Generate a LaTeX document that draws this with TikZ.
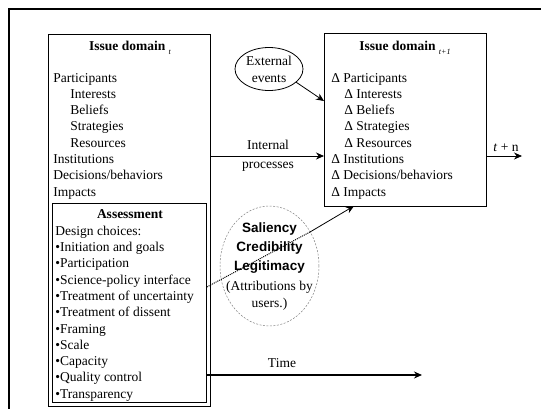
\documentclass[tikz,border=0pt]{standalone}
\usepackage{fontspec}
\setmainfont{Liberation Serif}
\newfontfamily\arialfont{Liberation Sans}
\usetikzlibrary{arrows.meta,positioning,shapes.geometric}

\begin{document}
\begin{tikzpicture}[x=1pt, y=-1pt, font=\fontsize{13.5}{16}\selectfont, line width=0.8pt]
        \tikzstyle{box} = [rectangle, draw, inner sep=0pt, anchor=north west]
        \tikzstyle{entry} = [anchor=west, inner sep=0pt, text height=9pt, text depth=3pt]
        \tikzstyle{title} = [inner sep=0pt, text height=9pt, text depth=3pt]
        \tikzstyle{arrow} = [-{Stealth[length=8pt, width=7pt]}]
        \useasboundingbox (0,0) rectangle (541,408);
        % outer frame
        \draw[line width=2pt] (9,410) -- (9,9) -- (541,9);
        % boxes
        \node (domt) [box, minimum width=162, minimum height=372] at (48,34) {};
        \node (assess) [box, minimum width=154, minimum height=199] at (52,203) {};
        \node (domr) [box, minimum width=162, minimum height=173] at (324,33) {};
        \node (ttl) [title] at (130,47) {\textbf{Issue domain} \raisebox{-4pt}{\fontsize{8}{8}\selectfont\itshape t}};
        \node (ttr) [title] at (405,47) {\textbf{Issue domain} \raisebox{-4pt}{\fontsize{8}{8}\selectfont\itshape t+1}};
        \foreach \xx/\txt [count=\i] in {53/Participants, 70/Interests, 70/Beliefs, 70/Strategies, 70/Resources, 53/Institutions, 53/Decisions\slash behaviors, 53/Impacts}
            \node (lt\i) [entry] at (\xx, 79+16.3*\i-16.3) {\txt};
        \foreach \xx/\txt [count=\i] in {331/Participants, 344/Interests, 344/Beliefs, 344/Strategies, 344/Resources, 331/Institutions, 331/Decisions\slash behaviors, 331/Impacts}
            \node (rt\i) [entry] at (\xx, 79+16.3*\i-16.3) {Δ \txt};
        % assessment
        \node (asst) [title] at (130,215) {\textbf{Assessment}};
        \node (dc) [entry] at (55,232) {Design choices:};
        \foreach \txt [count=\i] in {Initiation and goals, Participation, Science-policy interface, Treatment of uncertainty, Treatment of dissent, Framing, Scale, Capacity, Quality control, Transparency}
            \node (as\i) [entry] at (55, 248.5+16.3*\i-16.3) {\textbullet\txt};
        % ellipses
        \node (ext) [ellipse, draw, minimum width=68, minimum height=43, inner sep=0pt] at (269,69) {};
        \node (ext1) [title] at (269,62) {External};
        \node (ext2) [title] at (269,79) {events};
        \node (scl) [ellipse, draw, gray, line width=0.5pt, dash pattern=on 2pt off 1.5pt, minimum width=99, minimum height=120, inner sep=0pt] at (269.5,266) {};
        \foreach \txt/\yy [count=\i] in {Saliency/229, Credibility/248, Legitimacy/267}
            \node (s\i) [title, font=\fontsize{13.5}{16}\arialfont\bfseries] at (269.5,\yy) {\txt};
        \node (attr1) [title] at (269.5,287) {(Attributions by};
        \node (attr2) [title] at (269.5,304) {users.)};
        % connectors
        \draw[arrow] (ext.-26) -- (domr.west |- 0,101);
        \draw[arrow] (domt.east |- 0,156) -- (domr.west |- 0,156);
        \node (intl) [title] at (268,146) {Internal};
        \node (proc) [title] at (268,165) {processes};
        \coordinate (tn) at (522,156);
        \draw[arrow] (domr.east |- 0,156) -- (tn);
        \node (tnl) [title] at (506,148) {\textit{t} + n};
        \coordinate (dcut) at (310,232);
        \coordinate (dend) at (354,206);
        \draw[densely dotted, line width=1pt] (assess.east |- 0,287) -- (dcut);
        \draw[arrow] (dcut) -- (dend);
        \coordinate (tend) at (422,375);
        \draw[arrow, line width=1.5pt] (assess.east |- 0,375) -- (tend);
        \node (time) [title] at (282,364) {Time};
\end{tikzpicture}
\end{document}
